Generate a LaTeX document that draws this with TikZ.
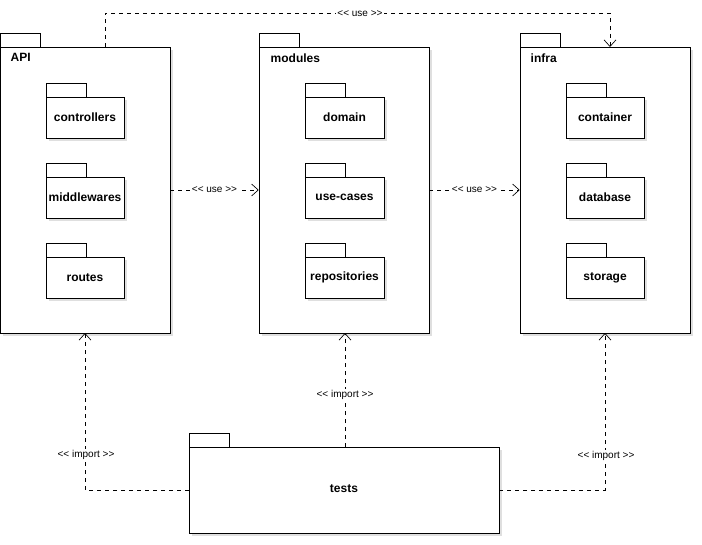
\documentclass[tikz,border=0pt]{standalone}
\usepackage{fontspec}
\setmainfont{Liberation Sans}
\usetikzlibrary{arrows.meta,shadows}
\begin{document}
\begin{tikzpicture}[x=0.75pt,y=-0.75pt,
  box/.style={draw,fill=white,line width=0.6pt},
  pname/.style={font=\fontsize{9}{10}\selectfont\bfseries,anchor=north west},
  iname/.style={font=\fontsize{9}{10}\selectfont\bfseries},
  dep/.style={draw,dashed,line width=0.5pt,-{Straight Barb[length=5pt,width=9pt]}},
  lbl/.style={fill=white,font=\fontsize{7.5}{8}\selectfont,inner sep=1pt}]
\useasboundingbox (0,0) rectangle (702,545);
% outer packages
\newcommand{\pkgbox}[5]{%
  \draw[box] (#1,#2-14) rectangle (#1+40,#2);
  \draw[box,drop shadow={opacity=0.25,shadow xshift=2pt,shadow yshift=-2pt}] (#1,#2) rectangle (#3,#4);
  \node (#5) at ({(#1+#3)/2},{(#2+#4)/2}) [minimum width={(#3-#1)*0.75pt},minimum height={(#4-#2)*0.75pt},inner sep=0]{};
}
\pkgbox{0}{47}{170}{333}{api}
\node[pname] at (6,49) {API};
\pkgbox{259}{47}{429}{333}{mod}
\node[pname] at (266,49) {modules};
\pkgbox{520}{47}{690}{333}{infra}
\node[pname] at (526,49) {infra};
\pkgbox{189}{447}{499}{533}{tests}
\node[iname] at (344,489) {tests};
% inner
\pkgbox{46}{97}{124}{138}{c1}\node[iname] at (c1) {controllers};
\pkgbox{46}{177}{124}{218}{c2}\node[iname] at (c2) {middlewares};
\pkgbox{46}{257}{124}{298}{c3}\node[iname] at (c3) {routes};
\pkgbox{305}{97}{384}{138}{m1}\node[iname] at (m1) {domain};
\pkgbox{305}{177}{384}{218}{m2}\node[iname] at (m2) {use-cases};
\pkgbox{305}{257}{384}{298}{m3}\node[iname] at (m3) {repositories};
\pkgbox{566}{97}{644}{138}{i1}\node[iname] at (i1) {container};
\pkgbox{566}{177}{644}{218}{i2}\node[iname] at (i2) {database};
\pkgbox{566}{257}{644}{298}{i3}\node[iname] at (i3) {storage};
% connectors
\coordinate (t1) at (105,13);
\coordinate (t2) at (610,13);
\draw[dep] (105,47) -- (t1) -- (t2) -- (610,47);
\node[lbl] at (360,14) {<{}< use >{}>};
\draw[dep] (api.east |- 0,190) -- (mod.west |- 0,190) node[lbl,pos=0.5,yshift=-0pt] {<{}< use >{}>};
\draw[dep] (mod.east |- 0,190) -- (infra.west |- 0,190) node[lbl,pos=0.5] {<{}< use >{}>};
\draw[dep] (tests.west |- 0,490) -- (85,490) -- (85,333);
\node[lbl] at (86,455) {<{}< import >{}>};
\draw[dep] (345,447) -- (345,333) node[lbl,pos=0.46] {<{}< import >{}>};
\draw[dep] (tests.east |- 0,490) -- (605,490) -- (605,333);
\node[lbl] at (606,456) {<{}< import >{}>};
\end{tikzpicture}
\end{document}
